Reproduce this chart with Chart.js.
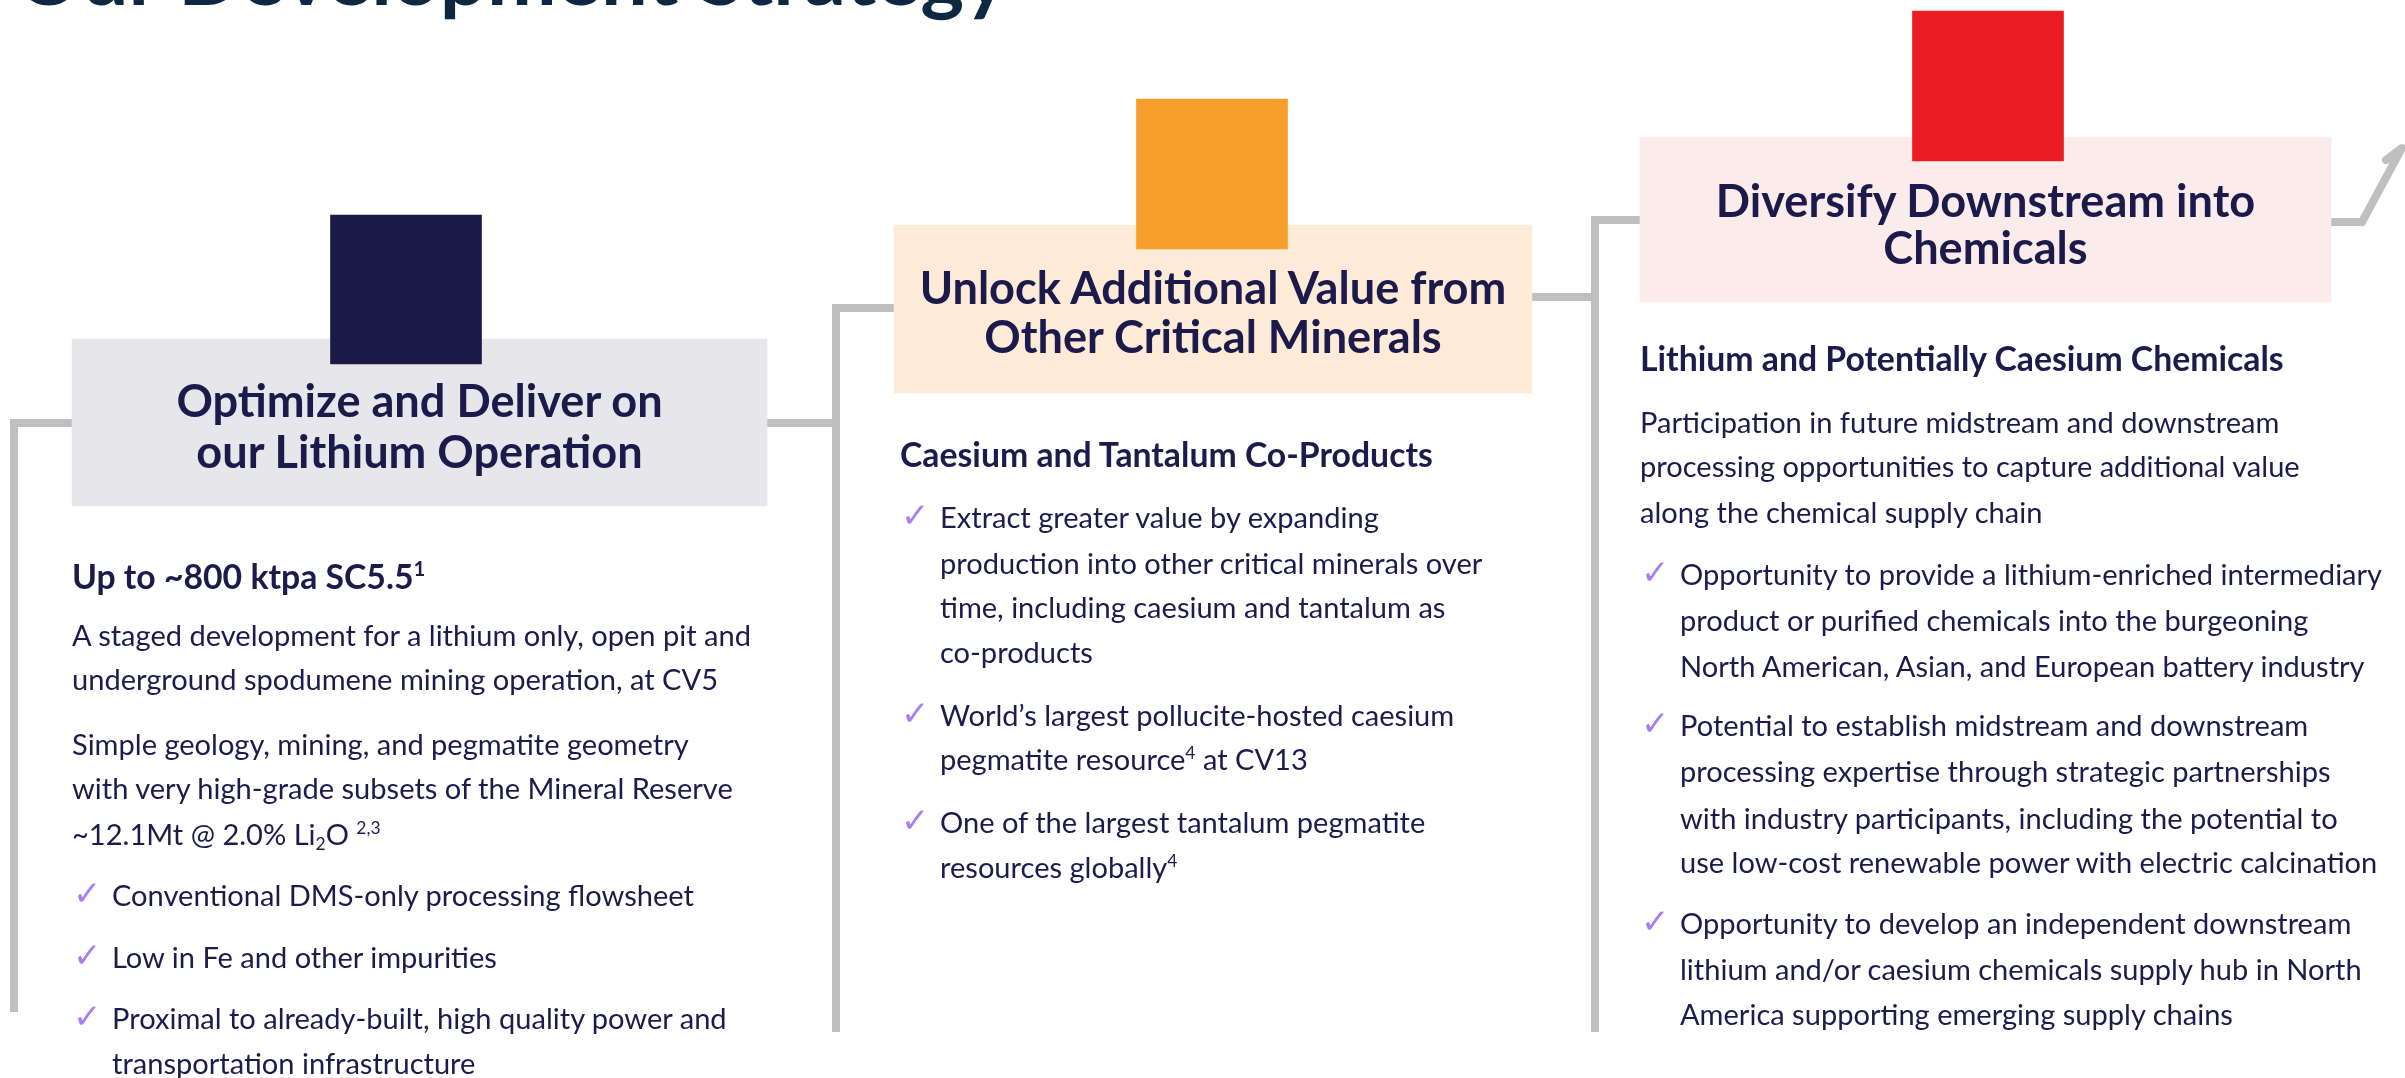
<!DOCTYPE html>
<html>
<head>
<meta charset="utf-8">
<script src="https://cdn.jsdelivr.net/npm/chart.js@4.4.1/dist/chart.umd.min.js"></script>
<style>
  html, body { margin: 0; padding: 0; background: #fff; }
  #wrap { position: relative; width: 2405px; height: 1078px; overflow: hidden; }
  #chart { position: absolute; left: 0; top: 0; }
  #labels { position: absolute; left: 0; top: 0; width: 2405px; height: 1078px; }
  .t { position: absolute; white-space: nowrap; color: #1c1b4b; font-family: Lato, "Open Sans", sans-serif; }
  .t sup { font-size: 0.6em; vertical-align: 0.62em; line-height: 0; }
  .t sub { font-size: 0.6em; vertical-align: -0.3em; line-height: 0; }
  .chk { position: absolute; color: #a67ff2; font-family: "DejaVu Sans", sans-serif; line-height: 1; }
</style>
</head>
<body>
<div id="wrap">
  <canvas id="chart" width="2405" height="1078"></canvas>
  <div id="labels"></div>
</div>
<script>
// stages of the strategy, left to right
const stages = ['Optimize and Deliver on our Lithium Operation', 'Unlock Additional Value from Other Critical Minerals', 'Diversify Downstream into Chemicals'];

// step values of each stage (x along the slide, y measured up from the bottom)
const stageX = [14, 836, 1595];
const railFoot = [66, 46, 46];
const levelIn = [655, 770, 858];
const levelOut = [655, 781, 856];
const arrowEnd = [2362, 2402, 2386];
const arrowLevel = [856, 930, 918];

// coloured marker bars and the header panels
const markerX = [406, 1212, 1988];
const markerLow = [714, 829, 917];
const markerHigh = [863, 979, 1067];
const panelFrom = [72, 894, 1640];
const panelTo = [767, 1532, 2331];
const panelLow = [572, 685, 776];
const panelHigh = [739, 853, 941];

// header text, two lines per panel
const headLines = [
  ['Optimize and Deliver on', 'our Lithium Operation'],
  ['Unlock Additional Value from', 'Other Critical Minerals'],
  ['Diversify Downstream into', 'Chemicals']
];
const headY = [[400, 451], [287, 336], [200, 247]];

// column text: kind, text, line centre
const columnX = [72, 900, 1640];
const columns = [
  [
    ['sub', 'Up to ~800 ktpa SC5.5<sup>1</sup>', 580],
    ['p', 'A staged development for a lithium only, open pit and', 637],
    ['p', 'underground spodumene mining operation, at CV5', 681],
    ['p', 'Simple geology, mining, and pegmatite geometry', 746],
    ['p', 'with very high-grade subsets of the Mineral Reserve', 790],
    ['p', '~12.1Mt @ 2.0% Li<sub>2</sub>O <sup>2,3</sup>', 836],
    ['chk', 'Conventional DMS-only processing flowsheet', 897],
    ['chk', 'Low in Fe and other impurities', 959],
    ['chk', 'Proximal to already-built, high quality power and', 1020],
    ['in', 'transportation infrastructure', 1065]
  ],
  [
    ['sub', 'Caesium and Tantalum Co-Products', 458],
    ['chk', 'Extract greater value by expanding', 519],
    ['in', 'production into other critical minerals over', 565],
    ['in', 'time, including caesium and tantalum as', 609],
    ['in', 'co-products', 654],
    ['chk', 'World’s largest pollucite-hosted caesium', 717],
    ['in', 'pegmatite resource<sup>4</sup> at CV13', 761],
    ['chk', 'One of the largest tantalum pegmatite', 824],
    ['in', 'resources globally<sup>4</sup>', 869]
  ],
  [
    ['sub', 'Lithium and Potentially Caesium Chemicals', 362],
    ['p', 'Participation in future midstream and downstream', 424],
    ['p', 'processing opportunities to capture additional value', 468],
    ['p', 'along the chemical supply chain', 514],
    ['chk', 'Opportunity to provide a lithium-enriched intermediary', 576],
    ['in', 'product or purified chemicals into the burgeoning', 622],
    ['in', 'North American, Asian, and European battery industry', 668],
    ['chk', 'Potential to establish midstream and downstream', 727],
    ['in', 'processing expertise through strategic partnerships', 773],
    ['in', 'with industry participants, including the potential to', 820],
    ['in', 'use low-cost renewable power with electric calcination', 864],
    ['chk', 'Opportunity to develop an independent downstream', 925],
    ['in', 'lithium and/or caesium chemicals supply hub in North', 971],
    ['in', 'America supporting emerging supply chains', 1016]
  ]
];

const markerColors = ['#1b1a47', '#f89e2b', '#ec1c24'];
const panelColors = ['#e7e6eb', '#fdebd7', '#fbeceb'];
const railColor = '#bfbfbf';

// rails: one stepped line per stage
const datasets = [];
stageX.forEach((x, i) => {
  const pts = [{x: x, y: railFoot[i]}, {x: x, y: levelIn[i]}];
  const mid = (panelFrom[i] + panelTo[i]) / 2;
  pts.push({x: mid, y: levelIn[i]}, {x: mid, y: levelOut[i]});
  if (i < stageX.length - 1) {
    pts.push({x: stageX[i + 1], y: levelOut[i]});
  } else {
    pts.push({x: arrowEnd[0], y: arrowLevel[0]});
  }
  datasets.push({
    type: 'line', data: pts, borderColor: railColor, borderWidth: 8,
    pointRadius: 0, tension: 0, fill: false, borderJoinStyle: 'miter', order: 3
  });
});
// arrow at the end of the last rail
datasets.push({
  type: 'line',
  data: arrowEnd.map((x, i) => ({x: x, y: arrowLevel[i]})),
  borderColor: railColor, borderWidth: 8, pointRadius: 0, tension: 0, fill: false,
  borderCapStyle: 'round', borderJoinStyle: 'round', order: 3
});
// header panels
stages.forEach((s, i) => {
  datasets.push({
    type: 'bar', label: s,
    data: [{x: (panelFrom[i] + panelTo[i]) / 2, y: [panelLow[i], panelHigh[i]]}],
    backgroundColor: panelColors[i], borderWidth: 0,
    barThickness: panelTo[i] - panelFrom[i], grouped: false, order: 2
  });
});
// coloured markers
datasets.push({
  type: 'bar', label: 'stage',
  data: markerX.map((x, i) => ({x: x, y: [markerLow[i], markerHigh[i]]})),
  backgroundColor: markerColors, borderWidth: 0,
  barThickness: 151, grouped: false, order: 1
});

new Chart(document.getElementById('chart'), {
  type: 'bar',
  data: {datasets: datasets},
  options: {
    responsive: false,
    animation: false,
    devicePixelRatio: 1,
    layout: {padding: 0},
    plugins: {legend: {display: false}, tooltip: {enabled: false}},
    scales: {
      x: {type: 'linear', min: 0, max: 2405, display: false, offset: false},
      y: {type: 'linear', min: 0, max: 1078, display: false}
    }
  }
});

// text
const fitCtx = document.createElement('canvas').getContext('2d');
function fitSize(text, weight, target) {
  fitCtx.font = weight + ' 100px Lato, "Open Sans", sans-serif';
  return 100 * target / fitCtx.measureText(text).width;
}
const bodySize = fitSize('A staged development for a lithium only, open pit and', 400, 681);
const subSize = fitSize('Caesium and Tantalum Co-Products', 700, 534);
const headSize = fitSize('Unlock Additional Value from', 700, 590);
const titleSize = fitSize('Our Development Strategy', 700, 995);

const layer = document.getElementById('labels');
function addText(html, x, cy, size, weight, center, color) {
  const d = document.createElement('div');
  d.className = 't';
  d.innerHTML = html;
  const lh = Math.round(size * 1.2);
  d.style.fontSize = size + 'px';
  d.style.fontWeight = weight;
  d.style.lineHeight = lh + 'px';
  d.style.left = x + 'px';
  d.style.top = (cy - lh / 2 - 0.1 * size) + 'px';
  if (center) d.style.transform = 'translateX(-50%)';
  if (color) d.style.color = color;
  layer.appendChild(d);
  return d;
}

// slide title, cut by the top edge
const title = addText('Our Development Strategy', 15, 0, titleSize, 700, false, '#0e2841');
title.style.lineHeight = titleSize + 'px';
title.style.top = (6 - 0.887 * titleSize) + 'px';

headLines.forEach((lines, i) => {
  const cx = (panelFrom[i] + panelTo[i]) / 2;
  lines.forEach((l, j) => addText(l, cx, headY[i][j] + 0.1 * headSize, headSize, 700, true, '#1b1a4a'));
});

columns.forEach((col, c) => {
  const x0 = columnX[c];
  col.forEach(([kind, html, cy]) => {
    if (kind === 'sub') {
      addText(html, x0, cy, subSize, 700);
    } else if (kind === 'p') {
      addText(html, x0, cy, bodySize, 400);
    } else {
      addText(html, x0 + 40, cy, bodySize, 400);
      if (kind === 'chk') {
        const k = document.createElement('div');
        k.className = 'chk';
        k.textContent = '✓';
        k.style.fontSize = '34px';
        k.style.left = (x0 + 1) + 'px';
        k.style.top = (cy - 21) + 'px';
        layer.appendChild(k);
      }
    }
  });
});
</script>
</body>
</html>
